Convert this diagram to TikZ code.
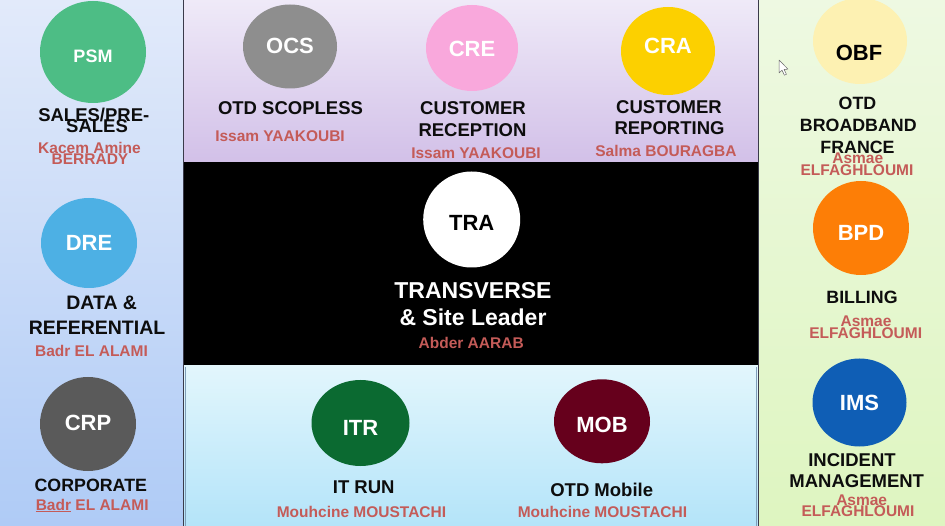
\documentclass[tikz,border=0pt]{standalone}
\usepackage{fontspec}
\setmainfont{Liberation Sans}
\usetikzlibrary{shapes.geometric,shadings}

\definecolor{namered}{HTML}{C45B58}
\definecolor{psmgreen}{HTML}{4DBD85}
\definecolor{dreblue}{HTML}{4DB0E4}
\definecolor{crpgrey}{HTML}{5A5A5A}
\definecolor{ocsgrey}{HTML}{8E8E8E}
\definecolor{crepink}{HTML}{F9A8DC}
\definecolor{crayellow}{HTML}{FCD000}
\definecolor{obfcream}{HTML}{FDF1B2}
\definecolor{bpdorange}{HTML}{FD7E06}
\definecolor{imsblue}{HTML}{0F5EB5}
\definecolor{itrgreen}{HTML}{0B6A31}
\definecolor{mobwine}{HTML}{66001C}
\definecolor{edge}{HTML}{3A3A4A}
\definecolor{bandedge}{HTML}{7F9DB8}
\definecolor{lefttop}{HTML}{E2EAFA}
\definecolor{leftbot}{HTML}{AFCBF6}
\definecolor{toptop}{HTML}{EFEAF8}
\definecolor{topbot}{HTML}{D2C0E8}
\definecolor{bottop}{HTML}{E2F6FC}
\definecolor{botbot}{HTML}{B4E4F9}
\definecolor{righttop}{HTML}{EEF9E2}
\definecolor{rightbot}{HTML}{DEF5C0}

\begin{document}
\begin{tikzpicture}[x=1pt,y=-1pt,
  ball/.style={ellipse, draw=none, inner sep=0pt},
  tag/.style={inner sep=0pt, text=white, font=\fontsize{22}{24}\selectfont\bfseries},
  lbl/.style={anchor=base, inner sep=0pt, text=black!95, font=\fontsize{18.5}{20}\selectfont\bfseries},
  who/.style={anchor=base, inner sep=0pt, text=namered, font=\fontsize{15.5}{17}\selectfont\bfseries},
  panelrule/.style={draw=edge, line width=0.8pt}]
\useasboundingbox (0,0) rectangle (945,526);

% ---- background panels ----
\shade[top color=lefttop, bottom color=leftbot] (0,0) rectangle (183,526);
\shade[top color=toptop, bottom color=topbot] (183,0) rectangle (758,162);
\fill[black] (183,162) rectangle (758,366);
\shade[top color=bottop, bottom color=botbot] (183,366) rectangle (758,526);
\shade[top color=righttop, bottom color=rightbot] (758,0) rectangle (945,526);
\draw[panelrule] (183,0) -- (183,526);
\draw[panelrule] (758,0) -- (758,526);
\draw[draw=bandedge, line width=0.6pt] (185,367) -- (185,526);
\draw[draw=bandedge, line width=0.6pt] (756,367) -- (756,526);

% ---- left column ----
\node[ball, fill=psmgreen, minimum width=106pt, minimum height=102pt] (psm) at (93,52) {};
\node[tag, font=\fontsize{18}{20}\selectfont\bfseries] (psmtag) at (93,56) {PSM};
\node[lbl] (psm1) at (93.8,121.7) {SALES/PRE-};
\node[lbl] (psm2) at (97,132.5) {SALES};
\node[who] (psm3) at (89.5,153.3) {Kacem Amine};
\node[who] (psm4) at (90,164.3) {BERRADY};

\node[ball, fill=dreblue, minimum width=96pt, minimum height=90pt] (dre) at (89,243) {};
\node[tag] (dretag) at (89,243) {DRE};
\node[lbl, font=\fontsize{19.5}{21}\selectfont\bfseries] (dre1) at (101.7,310) {DATA \&};
\node[lbl, font=\fontsize{19.5}{21}\selectfont\bfseries] (dre2) at (97,334.3) {REFERENTIAL};
\node[who] (dre3) at (91.5,356.7) {Badr EL ALAMI};

\node[ball, fill=crpgrey, minimum width=96pt, minimum height=94pt] (crp) at (88,424) {};
\node[tag] (crptag) at (88,423) {CRP};
\node[lbl, font=\fontsize{17.8}{20}\selectfont\bfseries] (crp1) at (90.8,491) {CORPORATE};
\node[who] (crp2) at (92.2,510) {\underline{Badr} EL ALAMI};

% ---- top band ----
\node[ball, fill=ocsgrey, minimum width=94pt, minimum height=84pt] (ocs) at (290,46.5) {};
\node[tag] (ocstag) at (290,46.3) {OCS};
\node[lbl] (ocs1) at (290.5,115) {OTD SCOPLESS};
\node[who] (ocs2) at (280,141.7) {Issam YAAKOUBI};

\node[ball, fill=crepink, minimum width=92pt, minimum height=86pt] (cre) at (472,48) {};
\node[tag] (cretag) at (472,49) {CRE};
\node[lbl] (cre1) at (473,115) {CUSTOMER};
\node[lbl] (cre2) at (472.5,136.7) {RECEPTION};
\node[who] (cre3) at (476,158.3) {Issam YAAKOUBI};

\node[ball, fill=crayellow, minimum width=94pt, minimum height=88pt] (cra) at (668,51) {};
\node[tag] (cratag) at (668,46) {CRA};
\node[lbl] (cra1) at (669,113.3) {CUSTOMER};
\node[lbl] (cra2) at (669.5,135) {REPORTING};
\node[who] (cra3) at (666,156.7) {Salma BOURAGBA};

% ---- centre band ----
\node[ball, fill=white, minimum width=97pt, minimum height=96pt] (tra) at (471.7,219.5) {};
\node[tag, text=black] (tratag) at (471.7,223) {TRA};
\node[lbl, text=white, font=\fontsize{23}{25}\selectfont\bfseries] (tra1) at (473,298.3) {TRANSVERSE};
\node[lbl, text=white, font=\fontsize{23}{25}\selectfont\bfseries] (tra2) at (473,325.7) {\& Site Leader};
\node[who] (tra3) at (471.2,349) {Abder AARAB};

% ---- bottom band ----
\node[ball, fill=itrgreen, minimum width=98pt, minimum height=86pt] (itr) at (360.5,423) {};
\node[tag] (itrtag) at (360.5,428) {ITR};
\node[lbl] (itr1) at (363.7,493.7) {IT RUN};
\node[who] (itr2) at (361.5,517) {Mouhcine MOUSTACHI};

\node[ball, fill=mobwine, minimum width=96pt, minimum height=84pt] (mob) at (602,421.3) {};
\node[tag] (mobtag) at (602,425) {MOB};
\node[lbl] (mob1) at (601.7,496) {OTD Mobile};
\node[who] (mob2) at (602.5,517.7) {Mouhcine MOUSTACHI};

% ---- right column ----
\node[ball, fill=obfcream, minimum width=94pt, minimum height=86pt] (obf) at (860,41) {};
\node[tag, text=black] (obftag) at (859,52.5) {OBF};
\node[lbl, font=\fontsize{17.8}{20}\selectfont\bfseries] (obf1) at (857.5,110) {OTD};
\node[lbl, font=\fontsize{17.8}{20}\selectfont\bfseries] (obf2) at (858.3,131.7) {BROADBAND};
\node[lbl, font=\fontsize{17.8}{20}\selectfont\bfseries] (obf3) at (857.5,153.3) {FRANCE};
\node[who] (obf4) at (857.8,163.3) {Asmae};
\node[who] (obf5) at (857,175.7) {ELFAGHLOUMI};

\node[ball, fill=bpdorange, minimum width=96pt, minimum height=94pt] (bpd) at (861,228) {};
\node[tag] (bpdtag) at (861,233) {BPD};
\node[lbl, font=\fontsize{17.8}{20}\selectfont\bfseries] (bpd1) at (862,304) {BILLING};
\node[who] (bpd2) at (866,326.7) {Asmae};
\node[who] (bpd3) at (865.7,338.3) {ELFAGHLOUMI};

\node[ball, fill=imsblue, minimum width=94pt, minimum height=88pt] (ims) at (859.5,402.5) {};
\node[tag] (imstag) at (859.5,403) {IMS};
\node[lbl] (ims1) at (852,466.7) {INCIDENT};
\node[lbl] (ims2) at (856.7,487.3) {MANAGEMENT};
\node[who] (ims3) at (861.7,505) {Asmae};
\node[who] (ims4) at (858,516.7) {ELFAGHLOUMI};

% ---- mouse pointer ----
\filldraw[fill=white, draw=black!60, line width=0.5pt, line join=round]
  (779,60) -- (779,73) -- (782,70.2) -- (784.4,75.2) -- (786.4,74.3)
  -- (784.1,69.4) -- (788,69.2) -- cycle;
\end{tikzpicture}
\end{document}
